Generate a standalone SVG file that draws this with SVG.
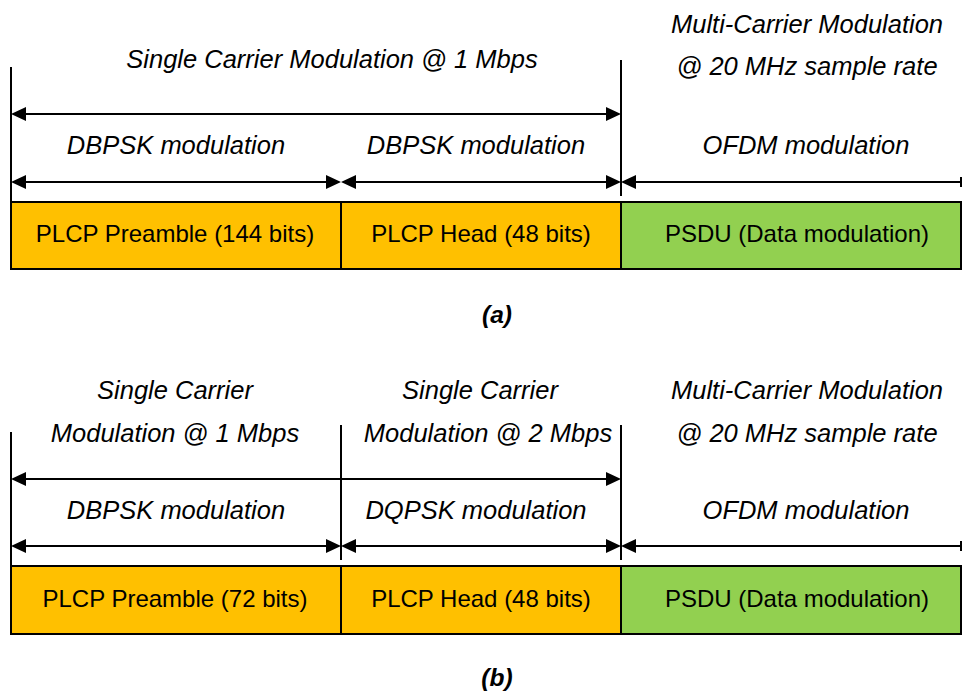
<svg xmlns="http://www.w3.org/2000/svg" width="963" height="691" viewBox="0 0 963 691">
<style>
.bg{fill:#ffffff}
.box{stroke:#000;stroke-width:2}
.or{fill:#FFC000}
.gr{fill:#92D050}
.ln{stroke:#000;stroke-width:2;fill:none}
.ar{stroke:#000;stroke-width:2;fill:none;marker-start:url(#ah);marker-end:url(#ah)}
.arl{stroke:#000;stroke-width:2;fill:none;marker-start:url(#ah)}
.it{font-family:"Liberation Sans",Arial,sans-serif;font-style:italic;font-size:25.5px;fill:#000;text-anchor:middle}
.lb{font-family:"Liberation Sans",Arial,sans-serif;font-size:24px;fill:#000;text-anchor:middle}
.cap{font-family:"Liberation Sans",Arial,sans-serif;font-style:italic;font-weight:bold;font-size:24.5px;fill:#000;text-anchor:middle}
</style>
<defs>
<marker id="ah" viewBox="0 0 15 14" refX="12" refY="7" markerWidth="15" markerHeight="14" markerUnits="userSpaceOnUse" orient="auto-start-reverse">
<path d="M0,0 L15,7 L0,14 z" fill="#000"/>
</marker>
</defs>
<rect class="bg" x="0" y="0" width="963" height="691"/>

<g id="connectors">
<!-- (a) -->
<line class="ln" x1="11" y1="67" x2="11" y2="202"/>
<line class="ln" x1="621" y1="60" x2="621" y2="196"/>
<line class="ar" x1="14" y1="114" x2="618" y2="114"/>
<line class="ar" x1="14" y1="182" x2="338" y2="182"/>
<line class="ar" x1="344" y1="182" x2="618" y2="182"/>
<line class="arl" x1="624" y1="182" x2="961" y2="182"/>
<line class="ln" x1="961" y1="177" x2="961" y2="187"/>
<!-- (b) -->
<line class="ln" x1="11" y1="432" x2="11" y2="566"/>
<line class="ln" x1="341" y1="425" x2="341" y2="560"/>
<line class="ln" x1="621" y1="425" x2="621" y2="560"/>
<line class="ar" x1="14" y1="479" x2="618" y2="479"/>
<line class="ar" x1="14" y1="546" x2="338" y2="546"/>
<line class="ar" x1="344" y1="546" x2="618" y2="546"/>
<line class="arl" x1="624" y1="546" x2="961" y2="546"/>
<line class="ln" x1="961" y1="541" x2="961" y2="551"/>
</g>

<g id="a-preamble">
<rect class="box or" x="11" y="202" width="330" height="67"/>
<text class="lb" x="175" y="242">PLCP Preamble (144 bits)</text>
</g>
<g id="a-head">
<rect class="box or" x="341" y="202" width="280" height="67"/>
<text class="lb" x="481" y="242">PLCP Head (48 bits)</text>
</g>
<g id="a-psdu">
<rect class="box gr" x="621" y="202" width="340" height="67"/>
<text class="lb" x="797" y="242">PSDU (Data modulation)</text>
</g>
<g id="a-labels">
<text class="it" x="332" y="68">Single Carrier Modulation @ 1 Mbps</text>
<text class="it" x="807" y="33">Multi-Carrier Modulation</text>
<text class="it" x="807" y="75">@ 20 MHz sample rate</text>
<text class="it" x="176" y="154">DBPSK modulation</text>
<text class="it" x="476" y="154">DBPSK modulation</text>
<text class="it" x="806" y="154">OFDM modulation</text>
<text class="cap" x="497" y="323">(a)</text>
</g>

<g id="b-preamble">
<rect class="box or" x="11" y="566" width="330" height="68"/>
<text class="lb" x="175" y="607">PLCP Preamble (72 bits)</text>
</g>
<g id="b-head">
<rect class="box or" x="341" y="566" width="280" height="68"/>
<text class="lb" x="481" y="607">PLCP Head (48 bits)</text>
</g>
<g id="b-psdu">
<rect class="box gr" x="621" y="566" width="340" height="68"/>
<text class="lb" x="797" y="607">PSDU (Data modulation)</text>
</g>
<g id="b-labels">
<text class="it" x="175" y="399">Single Carrier</text>
<text class="it" x="175" y="442">Modulation @ 1 Mbps</text>
<text class="it" x="480" y="399">Single Carrier</text>
<text class="it" x="488" y="442">Modulation @ 2 Mbps</text>
<text class="it" x="807" y="399">Multi-Carrier Modulation</text>
<text class="it" x="807" y="442">@ 20 MHz sample rate</text>
<text class="it" x="176" y="519">DBPSK modulation</text>
<text class="it" x="476" y="519">DQPSK modulation</text>
<text class="it" x="806" y="519">OFDM modulation</text>
<text class="cap" x="497" y="686">(b)</text>
</g>
</svg>
